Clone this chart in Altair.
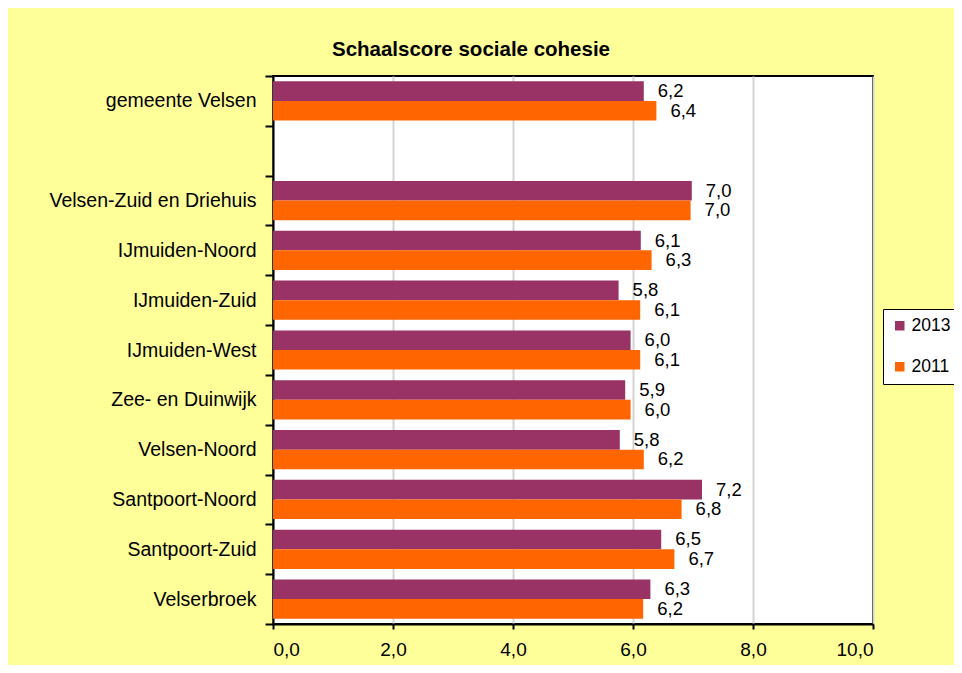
import altair as alt
import pandas as pd

# ---- data ----
regions = [
    "gemeente Velsen",
    " ",
    "Velsen-Zuid en Driehuis",
    "IJmuiden-Noord",
    "IJmuiden-Zuid",
    "IJmuiden-West",
    "Zee- en Duinwijk",
    "Velsen-Noord",
    "Santpoort-Noord",
    "Santpoort-Zuid",
    "Velserbroek",
]
data_regions = [r for r in regions if r.strip()]
values_2013 = [6.18, 6.98, 6.13, 5.76, 5.96, 5.87, 5.78, 7.15, 6.47, 6.29]
values_2011 = [6.39, 6.96, 6.31, 6.12, 6.12, 5.96, 6.18, 6.81, 6.69, 6.17]
years = ["2013", "2011"]
colors = ["#993366", "#FF6600"]
x_ticks = [0, 2, 4, 6, 8, 10]

rows = []
for r, v13, v11 in zip(data_regions, values_2013, values_2011):
    rows.append({"region": r, "year": "2013", "value": v13})
    rows.append({"region": r, "year": "2011", "value": v11})
df = pd.DataFrame(rows)

FONT = "Liberation Sans"

y_enc = alt.Y(
    "region:N",
    scale=alt.Scale(domain=regions, paddingInner=0, paddingOuter=0),
    axis=alt.Axis(
        title=None,
        labelFontSize=19.5,
        labelFont=FONT,
        labelColor="black",
        labelPadding=9,
        labelLimit=0,
        tickSize=8,
        tickWidth=2,
        tickColor="black",
        tickBand="extent",
        domainColor="black",
        domainWidth=2,
        grid=False,
    ),
)
yoff_enc = alt.YOffset(
    "year:N",
    scale=alt.Scale(domain=years, paddingInner=0, paddingOuter=0.27),
)
x_enc = alt.X(
    "value:Q",
    scale=alt.Scale(domain=[0, 10], nice=False),
    axis=alt.Axis(
        title=None,
        values=x_ticks,
        labelExpr="replace(format(datum.value, '.1f'), '.', ',')",
        labelFontSize=19,
        labelFont=FONT,
        labelColor="black",
        labelPadding=11,
        tickSize=5,
        tickWidth=2,
        tickColor="black",
        domainColor="black",
        domainWidth=2,
        grid=True,
        gridColor="#D4D4D4",
        gridWidth=2,
    ),
)

bars = alt.Chart().mark_bar().encode(
    y=y_enc,
    yOffset=yoff_enc,
    x=x_enc,
    color=alt.Color(
        "year:N",
        scale=alt.Scale(domain=years, range=colors),
        legend=alt.Legend(
            title=None,
            orient="none",
            legendX=610,
            legendY=233,
            symbolType="square",
            symbolSize=90,
            symbolStrokeWidth=0,
            labelFontSize=17.5,
            labelFont=FONT,
            labelColor="black",
            labelOffset=3,
            strokeColor="black",
            fillColor="white",
            padding=8,
            rowPadding=22,
        ),
    ),
)

labels = alt.Chart().transform_calculate(
    label="replace(format(datum.value, '.1f'), '.', ',')"
).mark_text(
    align="left", baseline="middle", dx=14, fontSize=18.5, font=FONT, color="black"
).encode(
    y=alt.Y("region:N", scale=alt.Scale(domain=regions, paddingInner=0, paddingOuter=0)),
    yOffset=yoff_enc,
    x=alt.X("value:Q"),
    text="label:N",
)

chart = (
    alt.layer(bars, labels, data=df)
    .properties(
        width=600,
        height=548,
        autosize="none",
        padding={"left": 265, "top": 68, "right": 81, "bottom": 41},
        background="#FFFF99",
        title=alt.TitleParams(
            "Schaalscore sociale cohesie",
            anchor="middle",
            frame="group",
            dx=-102,
            offset=6,
            fontSize=20.5,
            font=FONT,
            fontWeight="bold",
            color="black",
        ),
    )
    .configure_view(fill="white", stroke="black", strokeWidth=2)
)

chart.save("out.html", embed_options={"renderer": "svg", "actions": False})
